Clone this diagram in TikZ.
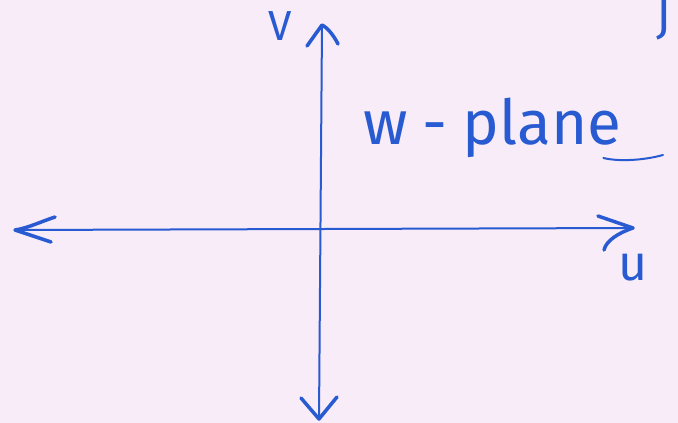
\documentclass[tikz,border=0pt]{standalone}
\usepackage{fontspec}
\setmainfont{Fira Sans}
\definecolor{paper}{RGB}{247,236,247}
\definecolor{ink}{RGB}{40,90,210}
\begin{document}
\begin{tikzpicture}[x=1pt,y=-1pt,
  axis/.style={ink,line width=2pt,line cap=round},
  barb/.style={ink,line width=3.5pt,line cap=round,line join=round},
  lbl/.style={text=ink,inner sep=0pt}]
\fill[paper] (0,0) rectangle (678,423);
\useasboundingbox (0,0) rectangle (678,423);
% axis end points
\coordinate (top) at (322,25);
\coordinate (bot) at (319,419);
\coordinate (left) at (15,230);
\coordinate (right) at (633,228);
\coordinate (tb1) at (307,46);
\coordinate (tb2) at (338,44);
\coordinate (bb1) at (301,398);
\coordinate (bb2) at (337,397);
\coordinate (lb1) at (55,217);
\coordinate (lb2) at (51,242);
\coordinate (rb1) at (598,216);
\coordinate (rb2) at (604,250);
% axes
\draw[axis] (bot) -- (top);
\draw[axis] (left) -- (right);
% arrow heads
\draw[barb] (tb1) -- (top) .. controls (328,28) and (334,36) .. (tb2);
\draw[barb] (bb1) -- (bot) -- (bb2);
\draw[barb] (lb1) .. controls (40,222) and (28,228) .. (left) -- (lb2);
\draw[barb] (rb1) -- (right) .. controls (618,233) and (606,241) .. (rb2);
% labels
\node[lbl,font=\fontsize{42}{42}\selectfont] (vlab) at (280,26) {V};
\node[lbl,font=\fontsize{50}{50}\selectfont,anchor=base] (ulab) at (633,280) {u};
\node[lbl,font=\fontsize{62}{62}\selectfont,anchor=base west] (wlab) at (363,144)
  {w\hspace{15pt}-\hspace{15pt}plane};
\coordinate (tail) at (663,155);
\draw[axis] (wlab.base east) ++(-18,14) coordinate (tailstart)
  .. controls (620,162) and (645,160) .. (tail);
\node[lbl,font=\fontsize{48}{48}\selectfont,anchor=base] (jlab) at (664,34) {J};
\end{tikzpicture}
\end{document}
